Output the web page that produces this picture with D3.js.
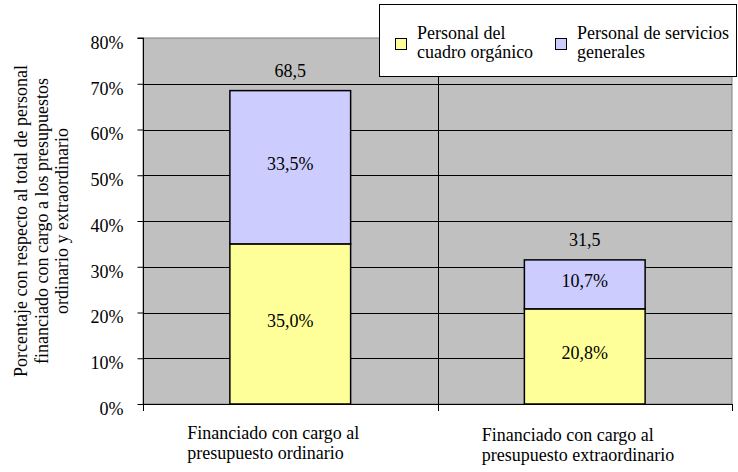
<!DOCTYPE html>
<html>
<head>
<meta charset="utf-8">
<script src="https://cdn.jsdelivr.net/npm/d3@7"></script>
<style>
  body { margin: 0; background: #fff; }
  svg text { font-family: "Liberation Serif", "Times New Roman", Times, serif; font-size: 18px; fill: #000; }
</style>
</head>
<body>
<div id="chart"></div>
<script>
// data
let categories = [
  ["Financiado con cargo al", "presupuesto ordinario"],
  ["Financiado con cargo al", "presupuesto extraordinario"]
]
let seriesNames = [
  ["Personal del", "cuadro orgánico"],
  ["Personal de servicios", "generales"]
]
let organico = [35.0, 20.8]
let servicios = [33.5, 10.7]
let totals = [68.5, 31.5]
let yTicks = [0, 10, 20, 30, 40, 50, 60, 70, 80]
let yTitle = [
  "Porcentaje con respecto al total de personal",
  "financiado con cargo a los presupuestos",
  "ordinario y extraordinario"
]

let colors = ["#FFFF99", "#CCCCFF"]

let width = 738, height = 472
let margin = {left: 143, right: 6, top: 38, bottom: 68}

let svg = d3.select("#chart").append("svg")
  .attr("width", width)
  .attr("height", height)
  .attr("font-family", "Liberation Serif")

let x = d3.scaleBand()
  .domain(d3.range(categories.length))
  .range([margin.left, width - margin.right])
  .paddingInner(0.59)
  .paddingOuter(0.295)

let y = d3.scaleLinear()
  .domain([0, 80])
  .range([height - margin.bottom, margin.top])

let comma = v => d3.format(".1f")(v).replace(".", ",")

// plot background
svg.append("rect")
  .attr("x", margin.left)
  .attr("y", margin.top)
  .attr("width", width - margin.right - margin.left)
  .attr("height", y(0) - margin.top)
  .attr("fill", "#C0C0C0")
  .attr("stroke", "#808080")

// horizontal gridlines
svg.selectAll("line.grid")
  .data(yTicks.filter(d => d > 0 && d < 80))
  .enter()
  .append("line")
  .attr("class", "grid")
  .attr("x1", margin.left)
  .attr("x2", width - margin.right)
  .attr("y1", d => Math.round(y(d)) + 0.5)
  .attr("y2", d => Math.round(y(d)) + 0.5)
  .attr("stroke", "#000")

// category separators
let step = x.step()
let seps = d3.range(categories.length + 1).map(i => margin.left + i * step)
svg.selectAll("line.sep")
  .data(seps)
  .enter()
  .append("line")
  .attr("class", "sep")
  .attr("x1", d => Math.round(d) + 0.5)
  .attr("x2", d => Math.round(d) + 0.5)
  .attr("y1", (d, i) => i == categories.length ? y(0) : margin.top)
  .attr("y2", y(0) + 7)
  .attr("stroke", "#000")

// stacked bars
let stacks = organico.map((d, i) => [
  {i: i, s: 0, y0: 0, y1: d, v: d},
  {i: i, s: 1, y0: d, y1: d + servicios[i], v: servicios[i]}
]).flat()

svg.selectAll("rect.bar")
  .data(stacks)
  .enter()
  .append("rect")
  .attr("class", "bar")
  .attr("x", d => x(d.i))
  .attr("y", d => y(d.y1))
  .attr("width", x.bandwidth())
  .attr("height", d => y(d.y0) - y(d.y1))
  .attr("fill", d => colors[d.s])
  .attr("stroke", "#000")
  .attr("stroke-width", 1.5)

svg.selectAll("text.val")
  .data(stacks)
  .enter()
  .append("text")
  .attr("class", "val")
  .attr("x", d => x(d.i) + x.bandwidth() / 2)
  .attr("y", d => (y(d.y0) + y(d.y1)) / 2 + 3)
  .attr("text-anchor", "middle")
  .text(d => comma(d.v) + "%")

svg.selectAll("text.total")
  .data(totals)
  .enter()
  .append("text")
  .attr("class", "total")
  .attr("x", (d, i) => x(i) + x.bandwidth() / 2)
  .attr("y", d => y(d) - 14)
  .attr("text-anchor", "middle")
  .text(d => comma(d))

// y axis
let yAxis = svg.append("g")
  .attr("transform", `translate(${margin.left + 0.5},0)`)
  .call(d3.axisLeft(y).tickValues(yTicks).tickFormat(d => d + "%").tickSize(6).tickPadding(14))
yAxis.select(".domain").attr("stroke", "#000").attr("d", `M-6,${y(80)}H0V${y(0)}`)
yAxis.selectAll("text").attr("dy", "0.57em")
yAxis.attr("font-size", null).attr("font-family", null)

// x axis line
svg.append("line")
  .attr("x1", margin.left)
  .attr("x2", width - margin.right)
  .attr("y1", Math.round(y(0)) + 0.5)
  .attr("y2", Math.round(y(0)) + 0.5)
  .attr("stroke", "#000")

// category labels
let catLabels = svg.selectAll("text.cat")
  .data(categories)
  .enter()
  .append("text")
  .attr("class", "cat")
  .attr("transform", (d, i) => `translate(${x(i) + x.bandwidth() / 2 - 103},${y(0) + 35 + i * 2})`)
catLabels.selectAll("tspan")
  .data(d => d)
  .enter()
  .append("tspan")
  .attr("x", 0)
  .attr("y", (d, j) => j * 20)
  .text(d => d)

// y title
let title = svg.append("text")
  .attr("transform", `translate(27,${(y(0) + y(80)) / 2}) rotate(-90)`)
  .attr("text-anchor", "middle")
title.selectAll("tspan")
  .data(yTitle)
  .enter()
  .append("tspan")
  .attr("x", 0)
  .attr("y", (d, i) => i * 20.5)
  .text(d => d)

// legend
let legend = svg.append("g")
legend.append("rect")
  .attr("x", 379.5)
  .attr("y", 4.5)
  .attr("width", 357)
  .attr("height", 72)
  .attr("fill", "#fff")
  .attr("stroke", "#000")

let legendX = [395, 555]
let items = legend.selectAll("g.item")
  .data(seriesNames)
  .enter()
  .append("g")
  .attr("class", "item")
  .attr("transform", (d, i) => `translate(${legendX[i]},0)`)
items.append("rect")
  .attr("x", 0.5)
  .attr("y", 38.5)
  .attr("width", 11)
  .attr("height", 11)
  .attr("fill", (d, i) => colors[i])
  .attr("stroke", "#000")
items.append("text")
  .selectAll("tspan")
  .data(d => d)
  .enter()
  .append("tspan")
  .attr("x", 22)
  .attr("y", (d, j) => 38.5 + j * 19)
  .text(d => d)
</script>
</body>
</html>
